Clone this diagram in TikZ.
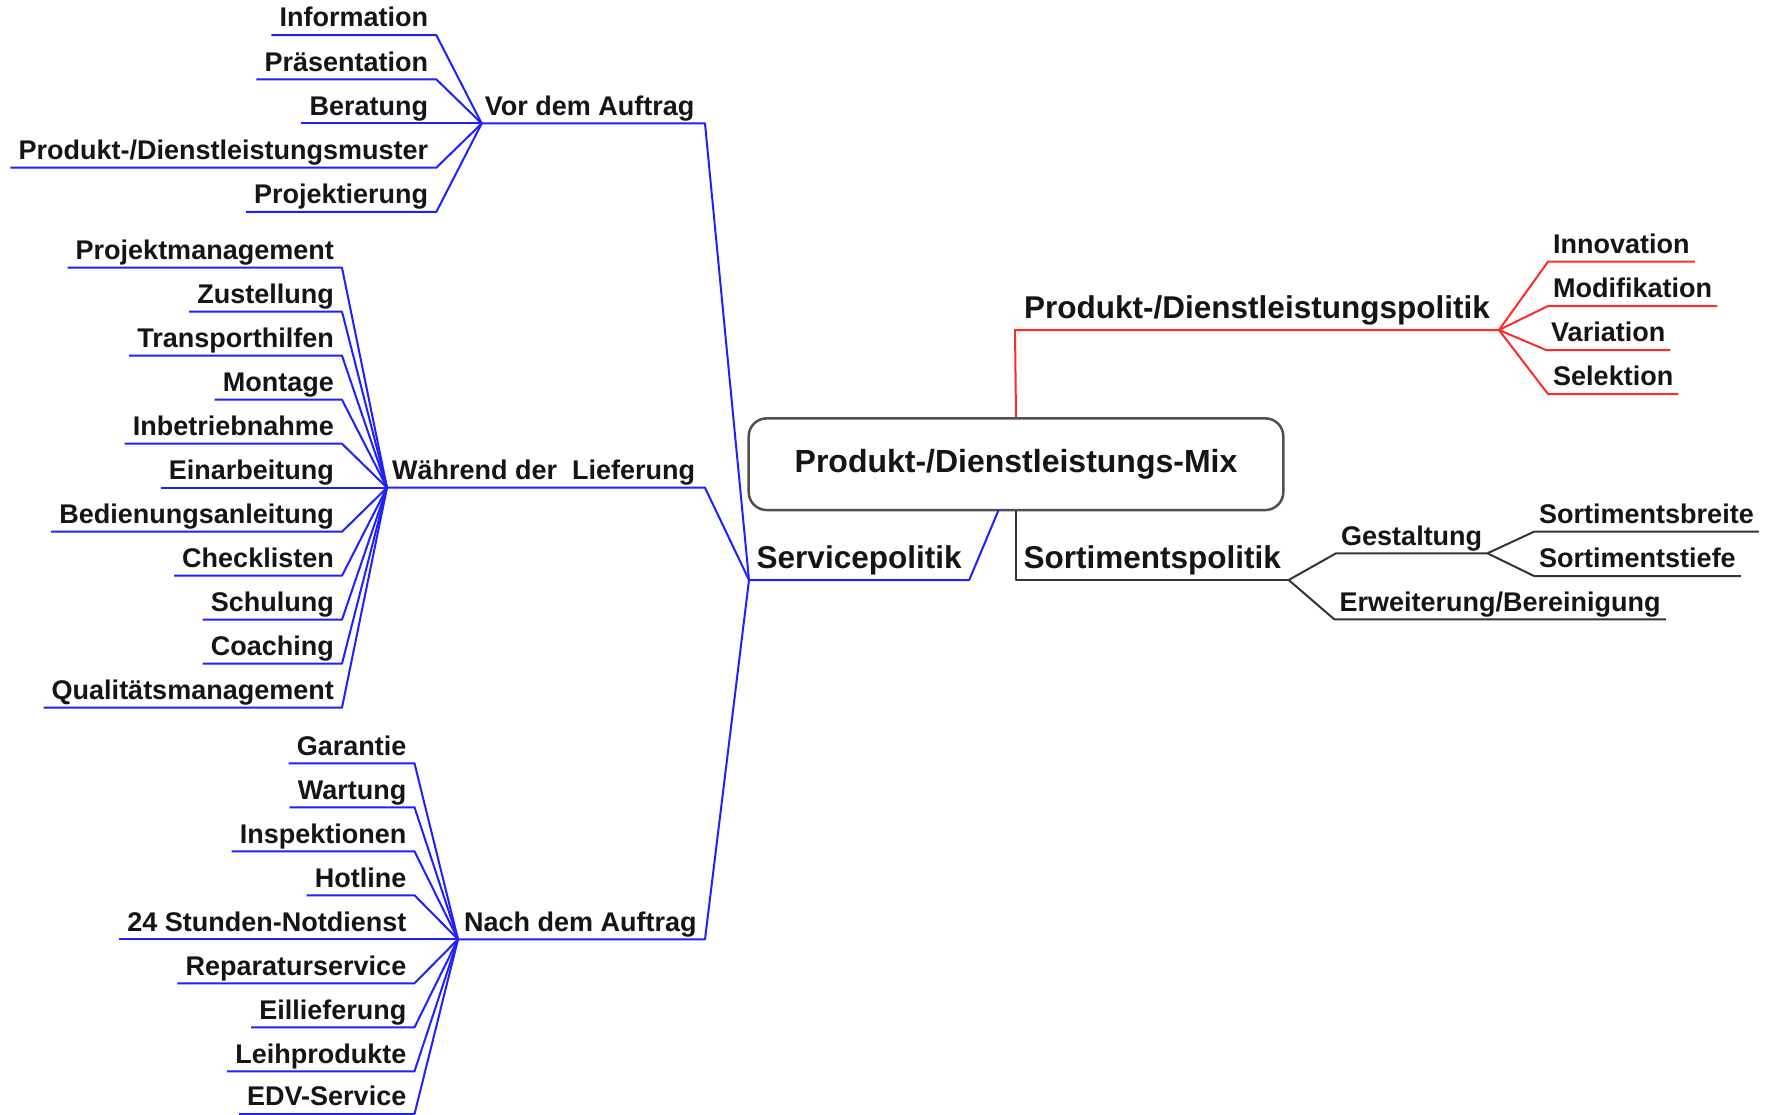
\documentclass[tikz,border=0pt]{standalone}
\usepackage{fontspec}
\setmainfont{Liberation Sans}
\newfontfamily\leaffont{Liberation Sans}
\newfontfamily\brfont{Liberation Sans}
\definecolor{bl}{HTML}{1F1FFF}
\definecolor{rd}{HTML}{FF2A2A}
\definecolor{kl}{HTML}{333333}
\definecolor{boxc}{HTML}{505050}
\definecolor{txt}{HTML}{151515}
\tikzset{
  lf/.style={font=\leaffont\bfseries\fontsize{27}{32}\selectfont, text=txt, inner xsep=8pt, inner ysep=2pt, text height=19.5pt, text depth=6pt},
  lfL/.style={lf, anchor=south east},
  lfR/.style={lf, anchor=south west, inner xsep=5pt},
  midlbl/.style={lf, anchor=south west, inner xsep=5pt},
  brlbl/.style={font=\brfont\bfseries\fontsize{31.5}{36}\selectfont, text=txt, anchor=south west, inner xsep=7.5pt, inner ysep=4pt, text height=23pt, text depth=7.5pt},
  bline/.style={draw=bl, line width=2pt, line join=round},
  rline/.style={draw=rd, line width=2pt, line join=round},
  kline/.style={draw=kl, line width=2pt, line join=round},
  mixbox/.style={draw=boxc, line width=2.5pt, rounded corners=18pt, minimum width=534.6pt, minimum height=91.7pt, fill=white, text=txt, font=\brfont\bfseries\fontsize{32}{38}\selectfont}
}
\begin{document}
\begin{tikzpicture}[x=1pt,y=-1pt]
\useasboundingbox (0,0) rectangle (1777,1115);
\fill[white] (0,0) rectangle (1777,1115);

% central node
\node[mixbox] (mix) at (1016,464.2) {Produkt-/Dienstleistungs-Mix};

% main branches
\node[brlbl] (serv) at (749,580) {Servicepolitik};
\node[brlbl] (sort) at (1016,580) {Sortimentspolitik};
\node[brlbl, inner xsep=9pt] (pdp) at (1015,330) {Produkt-/Dienstleistungspolitik};
\coordinate (servE) at (998.6,510);

% second level (Servicepolitik)
\coordinate (H1) at (481.7,123.5);
\coordinate (H2) at (387,487.7);
\coordinate (H3) at (458,939.3);
\node[midlbl, inner xsep=3pt] (vor) at (H1) {Vor dem Auftrag};
\node[midlbl] (waehr) at (H2) {Während der~~Lieferung};
\node[midlbl, inner xsep=6pt] (nach) at (H3) {Nach dem Auftrag};
\coordinate (vorE) at (705,123.5);
\coordinate (waehrE) at (705,487.7);
\coordinate (nachE) at (705,939.3);

% Vor dem Auftrag leaves
\node[lfL] (inf) at (436.3,35.1) {Information};
\node[lfL] (praes) at (436.3,79.3) {Präsentation};
\node[lfL] (ber) at (436.3,123.5) {Beratung};
\node[lfL] (muster) at (436.3,167.7) {Produkt-/Dienstleistungsmuster};
\node[lfL] (proj) at (436.3,212) {Projektierung};

% Während der Lieferung leaves
\node[lfL] (pm) at (342,267.7) {Projektmanagement};
\node[lfL] (zust) at (342,311.7) {Zustellung};
\node[lfL] (transp) at (342,355.7) {Transporthilfen};
\node[lfL] (mont) at (342,399.7) {Montage};
\node[lfL] (inbetr) at (342,443.7) {Inbetriebnahme};
\node[lfL] (einarb) at (342,487.7) {Einarbeitung};
\node[lfL] (bedien) at (342,531.7) {Bedienungsanleitung};
\node[lfL] (check) at (342,575.7) {Checklisten};
\node[lfL] (schul) at (342,619.7) {Schulung};
\node[lfL] (coach) at (342,663.7) {Coaching};
\node[lfL] (qm) at (342,707.7) {Qualitätsmanagement};

% Nach dem Auftrag leaves
\node[lfL] (gar) at (414.5,763.3) {Garantie};
\node[lfL] (wart) at (414.5,807.3) {Wartung};
\node[lfL] (insp) at (414.5,851.3) {Inspektionen};
\node[lfL] (hot) at (414.5,895.3) {Hotline};
\node[lfL] (notd) at (414.5,939.3) {24 Stunden-Notdienst};
\node[lfL] (rep) at (414.5,983.3) {Reparaturservice};
\node[lfL] (eil) at (414.5,1027.3) {Eillieferung};
\node[lfL] (leih) at (414.5,1071.3) {Leihprodukte};
\node[lfL] (edv) at (414.5,1114) {EDV-Service};

% Produkt-/Dienstleistungspolitik leaves
\node[lfR] (innov) at (1548,261.7) {Innovation};
\node[lfR] (modif) at (1548,306) {Modifikation};
\node[lfR] (variat) at (1546,350) {Variation};
\node[lfR] (selek) at (1548,394) {Selektion};

% Sortimentspolitik leaves
\node[lfR] (gest) at (1336,553.3) {Gestaltung};
\node[lfR] (erw) at (1334.3,619.3) {Erweiterung/Bereinigung};
\node[lfR] (breite) at (1534,531.7) {Sortimentsbreite};
\node[lfR] (tiefe) at (1534,576) {Sortimentstiefe};

% ---- connectors ----
% Servicepolitik
\draw[bline] (servE) -- (serv.south east) -- (serv.south west);
\draw[bline] (serv.south west) -- (vorE) -- (vor.south west);
\draw[bline] (serv.south west) -- (waehrE) -- (waehr.south west);
\draw[bline] (serv.south west) -- (nachE) -- (nach.south west);

\foreach \n in {inf,praes,ber,muster,proj}
  \draw[bline] (\n.south west) -- (\n.south east) -- (vor.south west);
\foreach \n in {pm,zust,transp,mont,inbetr,einarb,bedien,check,schul,coach,qm}
  \draw[bline] (\n.south west) -- (\n.south east) -- (waehr.south west);
\foreach \n in {gar,wart,insp,hot,notd,rep,eil,leih,edv}
  \draw[bline] (\n.south west) -- (\n.south east) -- (nach.south west);

% Produkt-/Dienstleistungspolitik
\draw[rline] (mix.north) -- (pdp.south west) -- (pdp.south east);
\foreach \n in {innov,modif,variat,selek}
  \draw[rline] (pdp.south east) -- (\n.south west) -- (\n.south east);

% Sortimentspolitik
\draw[kline] (mix.south) -- (sort.south west) -- (sort.south east);
\draw[kline] (sort.south east) -- (gest.south west) -- (gest.south east);
\draw[kline] (sort.south east) -- (erw.south west) -- (erw.south east);
\draw[kline] (gest.south east) -- (breite.south west) -- (breite.south east);
\draw[kline] (gest.south east) -- (tiefe.south west) -- (tiefe.south east);
\end{tikzpicture}
\end{document}
